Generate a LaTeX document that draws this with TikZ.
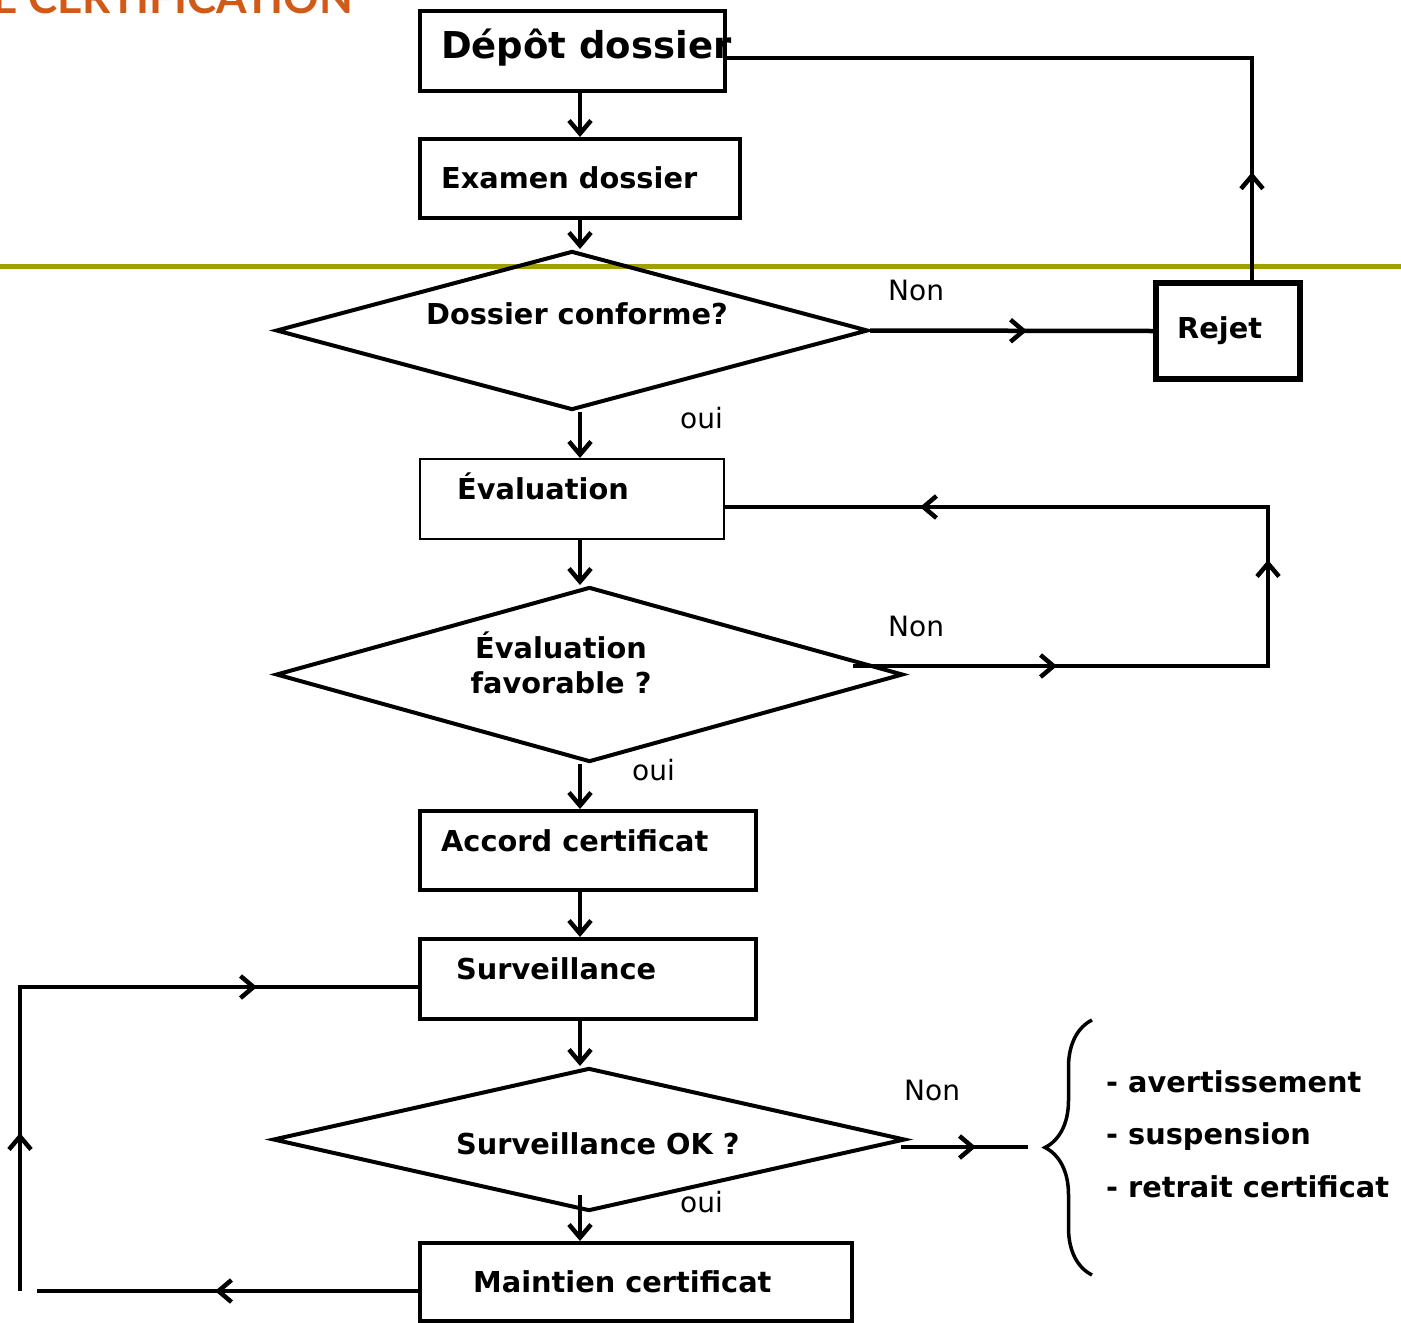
\documentclass[tikz,border=0pt]{standalone}
\usepackage{fontspec}
\setmainfont{DejaVu Sans}
\newfontfamily\titlefont{Lato}
\usetikzlibrary{arrows.meta,shapes.geometric,decorations.markings,decorations.pathreplacing,calc}
\definecolor{olivebar}{RGB}{160,160,0}
\definecolor{titleorange}{RGB}{210,90,25}
\tikzset{
  box/.style={draw, rectangle, line width=4pt, inner sep=0pt},
  dia/.style={draw, shape=diamond, line width=4pt, inner sep=0pt},
  conn/.style={line width=4.5pt},
  tip/.style={-{Straight Barb[length=13pt,width=22pt]}},
  midtip/.style={postaction={decorate, decoration={markings, mark=at position #1 with {\arrow{Straight Barb[length=13pt,width=22pt]}}}}},
  bt/.style={font=\fontsize{28.8}{35}\selectfont\bfseries, inner sep=0pt},
  lt/.style={font=\fontsize{28}{34}\selectfont, inner sep=0pt},
}
\begin{document}
\begin{tikzpicture}[x=1pt,y=-1pt]
\useasboundingbox (0,0) rectangle (1401,1323);
% title (cut off at the top edge, as in the reference)
\node[anchor=base east, inner sep=0pt, text=titleorange, font=\titlefont\bfseries\fontsize{44}{50}\selectfont] (title) at (353,13) {DE CERTIFICATION};
% olive bar
\draw[olivebar, line width=5pt] (0,266) -- (1401,266);

% boxes
\node[box, minimum width=305pt, minimum height=80pt] (depot) at (572.5,51) {};
\node[box, minimum width=320pt, minimum height=79pt] (exam) at (580,178.5) {};
\node[dia, minimum width=592pt, minimum height=159pt] (d1) at (572,330.5) {};
\node[box, line width=5.5pt, minimum width=144pt, minimum height=96pt] (rejet) at (1228,331) {};
\node[box, line width=2pt, minimum width=304pt, minimum height=80pt] (eval) at (572,499) {};
\node[dia, minimum width=627pt, minimum height=175pt] (d2) at (589.5,674.5) {};
\node[box, minimum width=336pt, minimum height=79pt] (accord) at (588,850.5) {};
\node[box, minimum width=336pt, minimum height=80pt] (surv) at (588,979) {};
\node[dia, minimum width=632pt, minimum height=143pt] (d3) at (589,1139.5) {};
\node[box, minimum width=432pt, minimum height=78pt] (maint) at (636,1282) {};

% texts
\node[bt, anchor=base west, font=\fontsize{37}{42}\selectfont\bfseries] (tdepot) at (441,58) {Dépôt dossier};
\node[bt, anchor=base west] (texam) at (441,188) {Examen dossier};
\node[bt, anchor=base] (td1) at (577,324) {Dossier conforme?};
\node[bt, anchor=base west] (trejet) at (1177,338) {Rejet};
\node[bt, anchor=base west] (teval) at (457,499) {Évaluation};
\node[bt, align=center, anchor=base] (td2) at (561,693) {Évaluation\\favorable ?};
\node[bt, anchor=base west] (taccord) at (441,851) {Accord certificat};
\node[bt, anchor=base west] (tsurv) at (456,979) {Surveillance};
\node[bt, anchor=base west] (td3) at (456,1154) {Surveillance OK ?};
\node[bt, anchor=base west] (tmaint) at (473,1292) {Maintien certificat};
\node[bt, anchor=base west] (l1t) at (1106,1092) {- avertissement};
\node[bt, anchor=base west] (l2t) at (1106,1144) {- suspension};
\node[bt, anchor=base west] (l3t) at (1106,1197) {- retrait certificat};

\node[lt, anchor=base west] (non1) at (888,300) {Non};
\node[lt, anchor=base west] (non2) at (888,636) {Non};
\node[lt, anchor=base west] (non3) at (904,1100) {Non};
\node[lt, anchor=base west] (oui1) at (680,428) {oui};
\node[lt, anchor=base west] (oui2) at (632,780) {oui};
\node[lt, anchor=base west] (oui3) at (680,1212) {oui};

% connectors
\coordinate (ax) at (580,0);
\draw[conn,tip] (depot.south -| ax) -- (exam.north -| ax);
\draw[conn,tip] (exam.south -| ax) -- (d1.north -| ax);
\draw[conn,midtip=157pt] (d1.east) -- (rejet.west);
\coordinate (rtop) at (1252,58);
\draw[conn,midtip=108pt] (rejet.north -| rtop) -- (rtop) -- (depot.east |- rtop);
\draw[conn,tip] (d1.south -| ax) -- (eval.north -| ax);
\draw[conn,tip] (eval.south -| ax) -- (d2.north -| ax);
\coordinate (e1) at (853,666);
\coordinate (e2) at (1268,666);
\coordinate (e3) at (1268,507);
\draw[conn,midtip=204pt,midtip=521pt,midtip=922pt] (e1) -- (e2) -- (e3) -- (eval.east |- e3);
\draw[conn,tip] (d2.south -| ax) -- (accord.north -| ax);
\draw[conn,tip] (accord.south -| ax) -- (surv.north -| ax);
\draw[conn,tip] (surv.south -| ax) -- (d3.north -| ax);
\coordinate (n3) at (1028,1147);
\coordinate (n3s) at (901,1147);
\draw[conn,midtip=75pt] (n3s) -- (n3);
\coordinate (m0) at (580,1195);
\draw[conn,tip] (m0) -- (maint.north -| ax);
\coordinate (l1) at (37,1291);
\draw[conn,midtip=203pt] (maint.west |- l1) -- (l1);
\coordinate (l2) at (20,1291);
\coordinate (l3) at (20,987);
\draw[conn,midtip=158pt,midtip=541pt] (l2) -- (l3) -- (surv.west |- l3);

% brace
\coordinate (bb) at (1092,1275);
\coordinate (btp) at (1092,1020);
\draw[line width=3.5pt, decorate, decoration={brace, amplitude=47pt}] (bb) -- (btp);
\end{tikzpicture}
\end{document}
